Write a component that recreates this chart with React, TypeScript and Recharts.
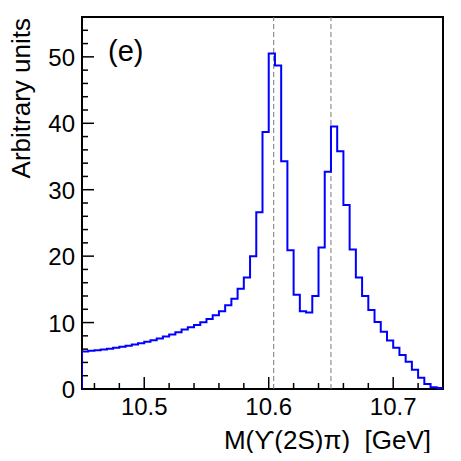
import React from 'react';
import {
    ComposedChart,
    Line,
    XAxis,
    YAxis,
    ReferenceLine,
    ReferenceArea,
    Label,
} from 'recharts';

// histogram: 58 bins of 5 MeV starting at 10.450 GeV
const binStart = 10.45;
const binWidth = 0.005;
const counts = [
    5.65, 5.75, 5.85, 5.95, 6.05, 6.2, 6.35, 6.5, 6.7, 6.9,
    7.1, 7.35, 7.6, 7.9, 8.2, 8.55, 8.95, 9.3, 9.65, 10.05,
    10.55, 11.1, 11.7, 12.6, 13.6, 15.1, 16.8, 20.0, 26.6, 38.7,
    50.5, 48.7, 34.3, 20.9, 14.2, 11.7, 11.5, 14.0, 21.3, 32.7,
    39.5, 35.8, 27.7, 21.0, 16.8, 14.0, 11.9, 10.1, 8.6, 7.3,
    6.2, 5.1, 4.1, 2.9, 1.7, 0.75, 0.25, 0.15,
];

// thresholds (dashed lines)
const thresholds = [10.604, 10.65];

const xTicks = [10.46, 10.48, 10.5, 10.52, 10.54, 10.56, 10.58, 10.6, 10.62, 10.64, 10.66, 10.68, 10.7, 10.72];
const xMajor = [10.5, 10.6, 10.7];
const yTicks = [0, 2, 4, 6, 8, 10, 12, 14, 16, 18, 20, 22, 24, 26, 28, 30, 32, 34, 36, 38, 40, 42, 44, 46, 48, 50, 52, 54];
const yMajor = [0, 10, 20, 30, 40, 50];

const xDomain = [10.45, 10.74];
const yDomain = [0, 56];

const FONT = '"Liberation Sans", Arial, Helvetica, sans-serif';

const data = [
    { m: binStart, y: 0 },
    ...counts.map((c, i) => ({ m: binStart + i * binWidth, y: c })),
    { m: xDomain[1], y: counts[counts.length - 1] },
];

const isMajor = (list: number[], v: number) => list.some((t) => Math.abs(t - v) < 1e-6);

const XTick = (props: any) => {
    const { x, y, payload } = props;
    const major = isMajor(xMajor, payload.value);
    return (
        <g>
            <line x1={x} x2={x} y1={y} y2={y - (major ? 12 : 6)} stroke="#000" strokeWidth={1.5} />
            {major && (
                <text x={x} y={y + 26} textAnchor="middle" fontSize={24} fontFamily={FONT} fill="#000">
                    {payload.value.toFixed(1)}
                </text>
            )}
        </g>
    );
};

const YTick = (props: any) => {
    const { x, y, payload } = props;
    const major = isMajor(yMajor, payload.value);
    return (
        <g>
            <line x1={x} x2={x + (major ? 12 : 6)} y1={y} y2={y} stroke="#000" strokeWidth={1.5} />
            {major && (
                <text x={x - 7} y={y + 9} textAnchor="end" fontSize={24} fontFamily={FONT} fill="#000">
                    {payload.value}
                </text>
            )}
        </g>
    );
};

const App: React.FC = () => {
    return (
        <div style={{ margin: -8, width: 461, height: 461, background: '#fff' }}>
            <ComposedChart width={461} height={461} data={data} margin={{ top: 17, right: 18, bottom: 0, left: 0 }}>
                <XAxis
                    dataKey="m"
                    type="number"
                    domain={xDomain}
                    ticks={xTicks}
                    interval={0}
                    tick={<XTick />}
                    tickLine={false}
                    tickSize={0}
                    tickMargin={0}
                    axisLine={false}
                    height={72}
                    allowDataOverflow
                >
                    <Label
                        content={() => (
                            <text
                                x={431}
                                y={449}
                                textAnchor="end"
                                fontSize={26}
                                fontFamily={FONT}
                                fill="#000"
                                style={{ whiteSpace: 'pre' }}
                            >
                                {'M(\u03D2(2S)\u03C0)  [GeV]'}
                            </text>
                        )}
                    />
                </XAxis>
                <YAxis
                    type="number"
                    domain={yDomain}
                    ticks={yTicks}
                    interval={0}
                    tick={<YTick />}
                    tickLine={false}
                    tickSize={0}
                    tickMargin={0}
                    axisLine={false}
                    width={82}
                    allowDataOverflow
                >
                    <Label
                        content={() => (
                            <text
                                x={30}
                                y={18}
                                transform="rotate(-90, 30, 18)"
                                textAnchor="end"
                                fontSize={26}
                                fontFamily={FONT}
                                fill="#000"
                            >
                                Arbitrary units
                            </text>
                        )}
                    />
                </YAxis>
                {thresholds.map((t) => (
                    <ReferenceLine key={t} x={t} stroke="#777" strokeWidth={1} strokeDasharray="5 3" />
                ))}
                <Line
                    type="stepAfter"
                    dataKey="y"
                    stroke="#0000ff"
                    strokeWidth={2}
                    dot={false}
                    activeDot={false}
                    isAnimationActive={false}
                />
                <ReferenceArea
                    x1={xDomain[0]}
                    x2={xDomain[1]}
                    y1={yDomain[0]}
                    y2={yDomain[1]}
                    fill="none"
                    stroke="#000"
                    strokeWidth={2}
                    ifOverflow="visible"
                >
                    <Label
                        content={() => (
                            <text x={108} y={61} fontSize={29} fontFamily={FONT} fill="#000">
                                (e)
                            </text>
                        )}
                    />
                </ReferenceArea>
            </ComposedChart>
        </div>
    );
};

export default App;
